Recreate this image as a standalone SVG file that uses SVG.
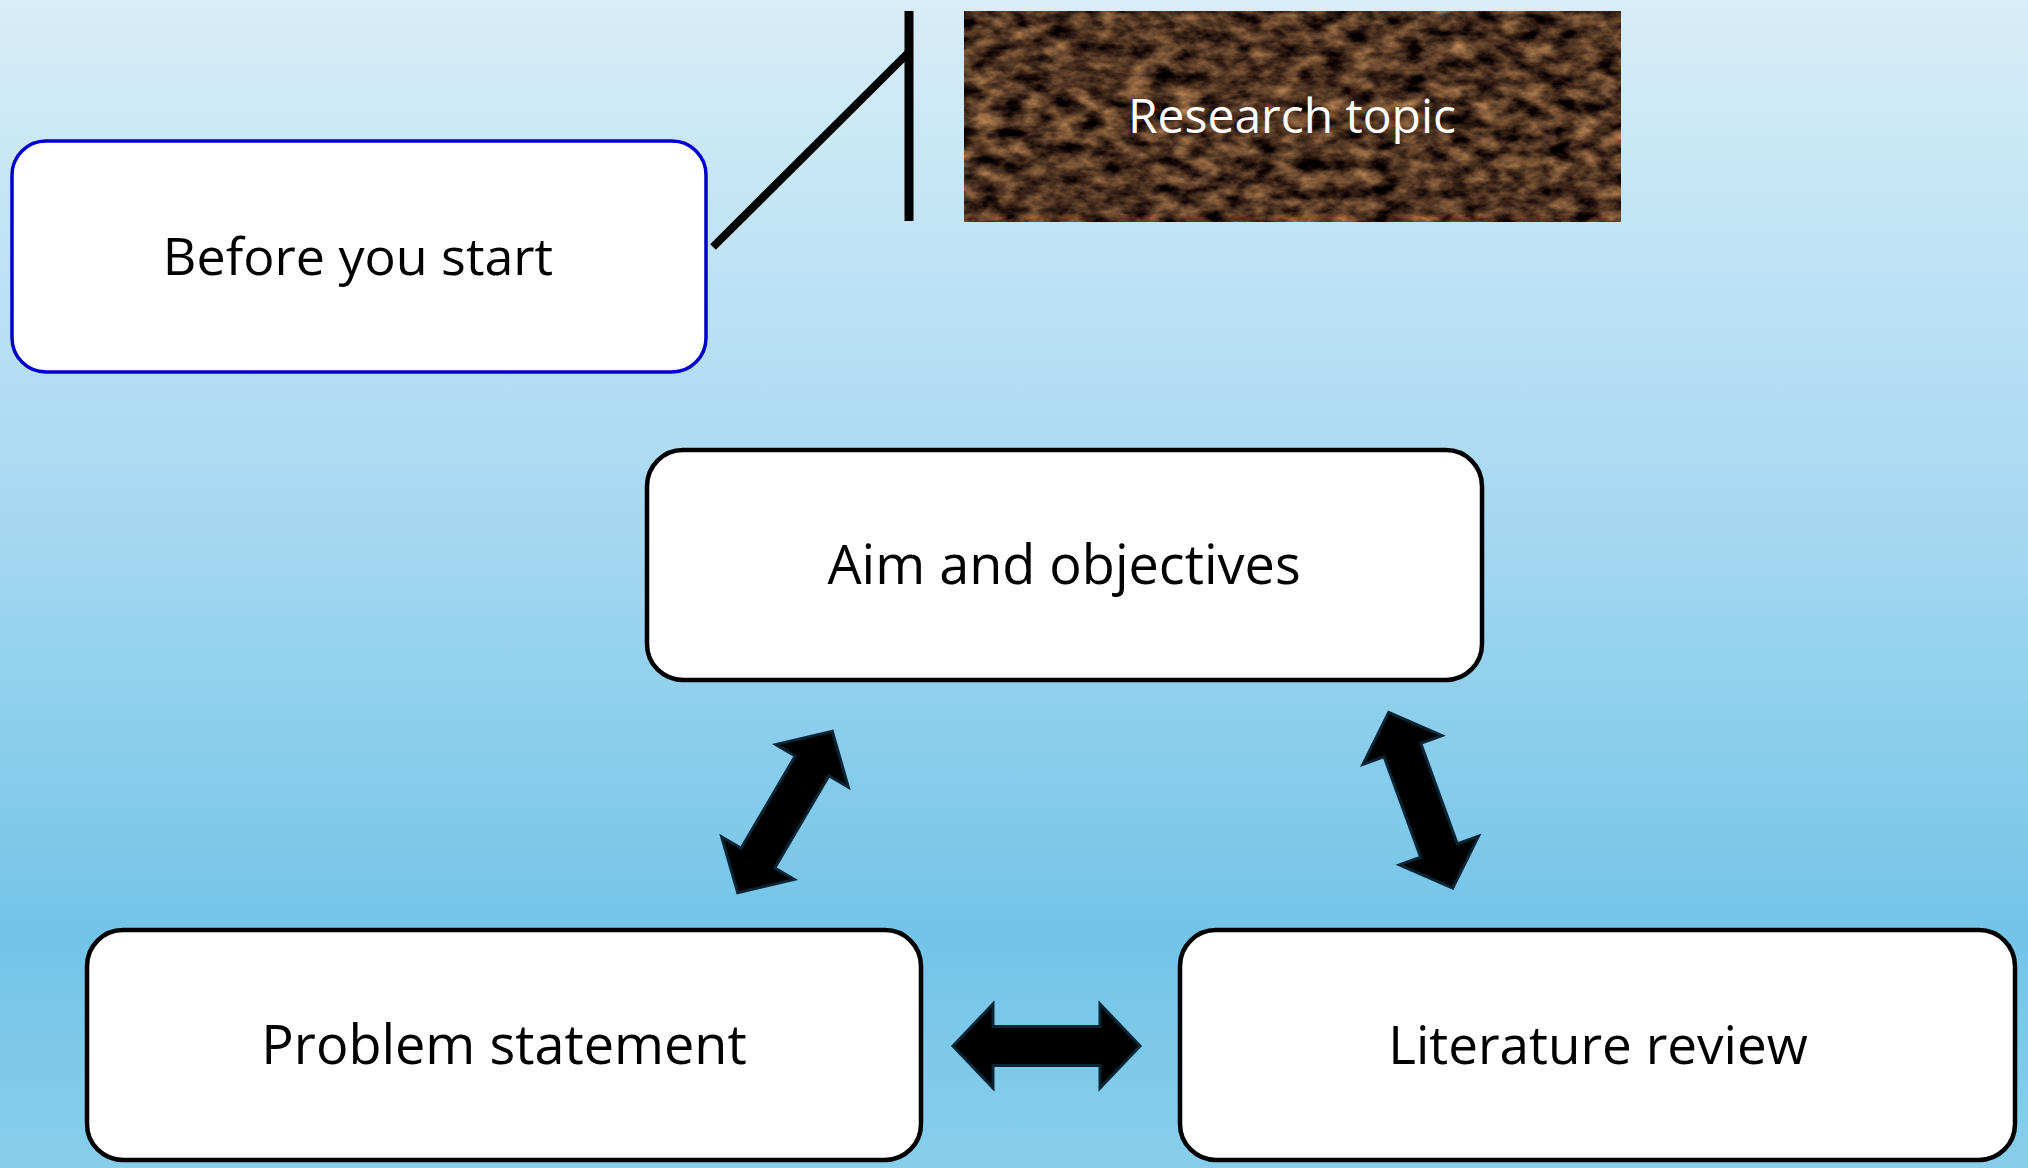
<svg xmlns="http://www.w3.org/2000/svg" width="2028" height="1168" viewBox="0 0 2028 1168">
<defs>
  <linearGradient id="bg" x1="0" y1="0" x2="0" y2="1">
    <stop offset="0" stop-color="#d8edf8"/>
    <stop offset="0.45" stop-color="#a6d8f1"/>
    <stop offset="0.8" stop-color="#72c4e8"/>
    <stop offset="1" stop-color="#88ceec"/>
  </linearGradient>
  <filter id="tex" x="0" y="0" width="1" height="1" filterUnits="objectBoundingBox" color-interpolation-filters="sRGB">
    <feTurbulence type="fractalNoise" baseFrequency="0.04 0.07" numOctaves="4" seed="7" result="n"/>
    <feColorMatrix in="n" type="matrix" values="1.05 0 0 0 -0.22  0.8 0 0 0 -0.2  0.5 0 0 0 -0.12  0 0 0 0 1"/>
  </filter>
  <path id="dbl" d="M -93.5 0 L -53.5 -42 L -53.5 -19.5 L 53.5 -19.5 L 53.5 -42 L 93.5 0 L 53.5 42 L 53.5 19.5 L -53.5 19.5 L -53.5 42 Z"/>
</defs>
<style>
  .box { fill: #ffffff; stroke: #000000; stroke-width: 4.5; }
  .blue { fill: #ffffff; stroke: #0000cc; stroke-width: 3.5; }
  .lbl { font-family: "Open Sans", "Liberation Sans", sans-serif; font-size: 54px; fill: #000000; text-anchor: middle; }
  .wlbl { font-family: "Open Sans", "Liberation Sans", sans-serif; font-size: 48px; fill: #ffffff; text-anchor: middle; }
  .arrow { fill: #000000; stroke: #0b2434; stroke-width: 3; stroke-linejoin: miter; }
  .line { stroke: #000000; fill: none; }
</style>
<rect x="0" y="0" width="2028" height="1168" fill="url(#bg)"/>

<g id="connectors">
  <line class="line" x1="713" y1="247" x2="909" y2="52" stroke-width="8"/>
  <line class="line" x1="909" y1="11" x2="909" y2="221" stroke-width="9"/>
  <use href="#dbl" class="arrow" transform="translate(785 812) rotate(-59.6)"/>
  <use href="#dbl" class="arrow" transform="translate(1420.7 800.3) rotate(70)"/>
  <use href="#dbl" class="arrow" transform="translate(1046.5 1046)"/>
</g>

<g id="research-topic">
  <rect x="964" y="11" width="657" height="211" fill="#5a3b22" filter="url(#tex)"/>
  <text class="wlbl" x="1292" y="133">Research topic</text>
</g>

<g id="before-you-start">
  <rect class="blue" x="12" y="141" width="694" height="231" rx="34" ry="34"/>
  <text class="lbl" x="358" y="275" style="font-size:52px">Before you start</text>
</g>

<g id="aim-and-objectives">
  <rect class="box" x="647" y="450" width="835" height="230" rx="36" ry="36"/>
  <text class="lbl" x="1064" y="584">Aim and objectives</text>
</g>

<g id="problem-statement">
  <rect class="box" x="87" y="930" width="834" height="230" rx="36" ry="36"/>
  <text class="lbl" x="504" y="1064">Problem statement</text>
</g>

<g id="literature-review">
  <rect class="box" x="1180" y="930" width="835" height="230" rx="36" ry="36"/>
  <text class="lbl" x="1598" y="1064" style="font-size:53px">Literature review</text>
</g>
</svg>
